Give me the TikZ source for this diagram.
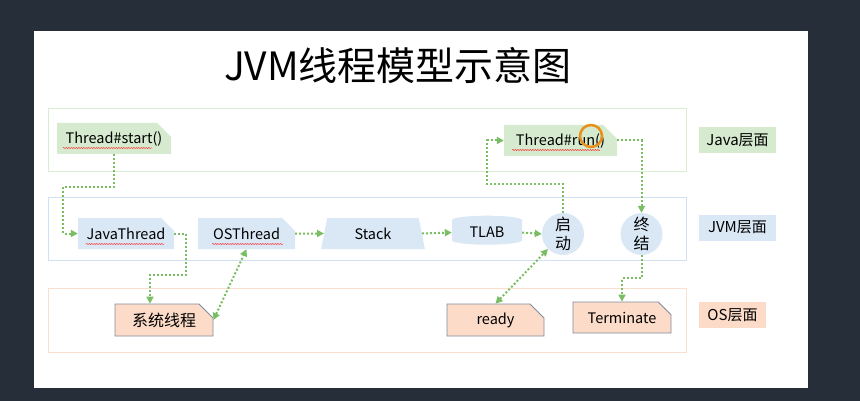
\documentclass[tikz,border=0pt]{standalone}
\usepackage{fontspec}
\setmainfont{Noto Sans CJK SC}
\usetikzlibrary{shapes.misc,shapes.geometric,arrows.meta,decorations.pathmorphing}
\definecolor{bgdark}{RGB}{38,46,57}
\definecolor{jfill}{RGB}{214,234,207}
\definecolor{jline}{RGB}{218,236,210}
\definecolor{vfill}{RGB}{218,232,246}
\definecolor{vline}{RGB}{209,224,242}
\definecolor{ofill}{RGB}{252,220,200}
\definecolor{oline}{RGB}{250,222,206}
\definecolor{oborder}{RGB}{128,140,160}
\definecolor{flowgreen}{RGB}{122,190,100}
\definecolor{cursor}{RGB}{232,144,26}
\begin{document}
\begin{tikzpicture}
	[x=1pt, y=-1pt,
	layer/.style ={rectangle, draw, line width=1pt, inner sep=0pt},
	snip/.style ={chamfered rectangle, chamfered rectangle corners=north east, chamfered rectangle xsep=7pt, chamfered rectangle ysep=7pt, inner sep=0pt, font=\fontsize{14.5}{16}\selectfont},
	jnode/.style ={snip, fill=jfill, minimum width=114pt, minimum height=31pt},
	vnode/.style ={snip, fill=vfill, minimum width=96pt, minimum height=31pt},
	onode/.style ={snip, fill=ofill, draw=oborder, line width=0.8pt, minimum width=97pt, minimum height=32pt},
	state/.style ={circle, fill=vfill, minimum size=42pt, inner sep=0pt, align=center, font=\fontsize{16}{19}\selectfont},
	tag/.style ={rectangle, inner sep=0pt, minimum height=26pt, font=\fontsize{15}{17}\selectfont},
	line/.style ={draw=flowgreen, line width=2pt, dash pattern=on 2pt off 2pt, -{Triangle[length=7pt,width=7pt]}},
	both/.style ={line, {Triangle[length=7pt,width=7pt]}-{Triangle[length=7pt,width=7pt]}},
	squiggle/.style ={draw=red!80, line width=0.5pt, decorate, decoration={snake, amplitude=0.6pt, segment length=2.5pt}}]
	\useasboundingbox (0,0) rectangle (860,401);
	\fill[bgdark] (0,0) rectangle (860,401);
	\fill[white] (34,31) rectangle (808,388);
	\draw (398,66) node[font=\fontsize{39}{44}\selectfont] (title) {JVM线程模型示意图};
	% layers
	\draw (367,140.5) node[layer, draw=jline, minimum width=638pt, minimum height=63pt] (javalayer) {};
	\draw (367,229) node[layer, draw=vline, minimum width=638pt, minimum height=62pt] (jvmlayer) {};
	\draw (367,320) node[layer, draw=oline, minimum width=638pt, minimum height=64pt] (oslayer) {};
	\draw (737.5,140) node[tag, fill=jfill, minimum width=77pt] (javatag) {Java层面};
	\draw (737.5,227.5) node[tag, fill=vfill, minimum width=77pt] (jvmtag) {JVM层面};
	\draw (732.5,315) node[tag, fill=ofill, minimum width=67pt] (ostag) {OS层面};
	% nodes
	\draw (114,138.5) node[jnode] (start) {Thread\#start()};
	\draw (560.5,140.5) node[jnode, minimum width=113pt] (run) {Thread\#run()};
	\draw (126,233.5) node[vnode] (jt) {JavaThread};
	\draw (246.5,233.5) node[vnode, minimum width=97pt] (ost) {OSThread};
	\draw (373,233.5) node[trapezium, trapezium stretches=true, trapezium angle=78, fill=vfill, minimum width=104pt, minimum height=31pt, inner sep=0pt, font=\fontsize{14.5}{16}\selectfont] (stack) {Stack};
	\draw (487,232.5) node[cylinder, shape border rotate=90, aspect=0.25, fill=vfill, minimum width=70pt, minimum height=29pt, inner sep=0pt, font=\fontsize{14.5}{16}\selectfont] (tlab) {TLAB};
	\draw (563,234) node[state] (qd) {启\\动};
	\draw (641.5,234) node[state] (zj) {终\\结};
	\draw (164,320) node[onode, minimum width=98pt, font=\fontsize{16}{18}\selectfont] (sys) {系统线程};
	\draw (495.5,320) node[onode] (ready) {ready};
	\draw (622,317.5) node[onode, minimum width=98pt, minimum height=31pt] (term) {Terminate};
	% spell check marks
	\draw[squiggle] (63,148) -- (152,148);
	\draw[squiggle] (512,150) -- (600,150);
	\draw[squiggle] (86,244) -- (164,244);
	\draw[squiggle] (212,244) -- (283,244);
	% connectors
	\coordinate (c1) at (63,187);
	\coordinate (c2) at (186,275);
	\coordinate (c3) at (487,184);
	\draw[line] (start.south) |- (c1) |- (jt.west);
	\draw[line] (jt.east) -| (c2) -| ([xshift=-14pt]sys.north);
	\draw[both] (sys.east) -- (ost.south);
	\draw[line] (ost.east) -- (stack.west);
	\draw[line] (stack.east) -- (tlab.west);
	\draw[line] (tlab.east) -- (qd.west);
	\draw[both] (ready.north) -- (qd.south west);
	\draw[line] (qd.north) |- (c3) |- (run.west);
	\draw[line] (run.east) -| (zj.north);
	\draw[line] (zj.south) -- ++(0,23) -| (term.north);
	% cursor mark
	\draw[cursor, line width=2.5pt] (591,136) circle (11);
\end{tikzpicture}
\end{document}
